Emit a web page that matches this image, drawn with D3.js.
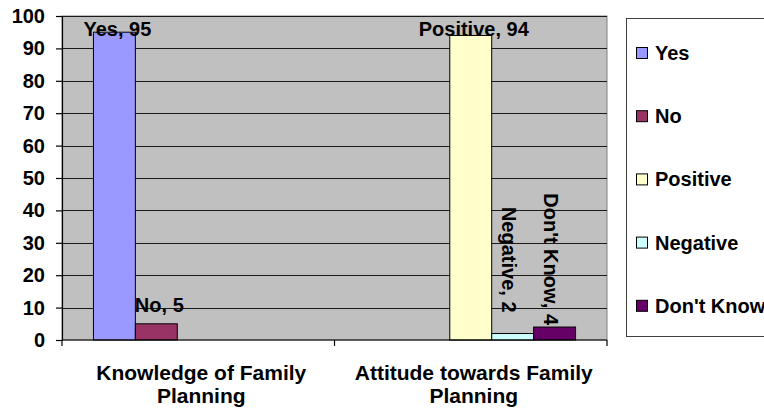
<!DOCTYPE html>
<html>
<head>
<meta charset="utf-8">
<script src="https://cdn.jsdelivr.net/npm/d3@7"></script>
<style>
  html, body { margin: 0; padding: 0; background: #ffffff; }
  svg { display: block; }
  text { font-family: "Liberation Sans", Arial, sans-serif; font-weight: bold; fill: #000; }
</style>
</head>
<body>
<script>
// Survey results: knowledge of and attitude towards family planning (%)
const categories = ["Knowledge of Family Planning", "Attitude towards Family Planning"];
const categoryLines = [["Knowledge of Family", "Planning"], ["Attitude towards Family", "Planning"]];
const seriesNames = ["Yes", "No", "Positive", "Negative", "Don't Know"];
const yesValues = [95, null];
const noValues = [5, null];
const positiveValues = [null, 94];
const negativeValues = [null, 2];
const dontKnowValues = [null, 4];
const yTicks = [0, 10, 20, 30, 40, 50, 60, 70, 80, 90, 100];

const seriesValues = [yesValues, noValues, positiveValues, negativeValues, dontKnowValues];
const colors = ["#9999FF", "#993366", "#FFFFCC", "#CCFFFF", "#660066"];

const W = 764, H = 412;
const plot = { left: 62, right: 607, top: 16, bottom: 340 };
const fontSize = "20px";

const svg = d3.select("body").append("svg").attr("width", W).attr("height", H);

const x0 = d3.scaleBand().domain(categories).range([plot.left, plot.right]).padding(0);
const x1 = d3.scaleBand().domain(seriesNames).range([0, x0.bandwidth()]).paddingInner(0).paddingOuter(0.75);
const y = d3.scaleLinear().domain([0, 100]).range([plot.bottom, plot.top]);

// plot background
svg.append("rect")
  .attr("x", plot.left).attr("y", plot.top)
  .attr("width", plot.right - plot.left).attr("height", plot.bottom - plot.top)
  .attr("fill", "#C0C0C0").attr("stroke", "#808080").attr("stroke-width", 1);

// horizontal gridlines
svg.append("g").selectAll("line").data(yTicks.filter(t => t > 0)).join("line")
  .attr("x1", plot.left).attr("x2", plot.right)
  .attr("y1", d => Math.round(y(d)) + 0.5).attr("y2", d => Math.round(y(d)) + 0.5)
  .attr("stroke", "#1a1a1a").attr("stroke-width", 1.2);

// bars
const rows = [];
categories.forEach((c, ci) => {
  seriesNames.forEach((s, si) => {
    const v = seriesValues[si][ci];
    if (v !== null) rows.push({ category: c, series: s, value: v, color: colors[si] });
  });
});

svg.append("g").selectAll("rect").data(rows).join("rect")
  .attr("x", d => x0(d.category) + x1(d.series))
  .attr("y", d => y(d.value))
  .attr("width", x1.bandwidth())
  .attr("height", d => y(0) - y(d.value))
  .attr("fill", d => d.color)
  .attr("stroke", "#000").attr("stroke-width", 1);

// y axis
const yAxis = svg.append("g")
  .attr("transform", `translate(${plot.left},0)`)
  .call(d3.axisLeft(y).tickValues(yTicks).tickSize(6).tickPadding(11).tickFormat(d3.format("d")));
yAxis.select(".domain").attr("stroke", "#000").attr("stroke-width", 1.2);
yAxis.selectAll(".tick line").attr("stroke", "#000").attr("stroke-width", 1.2);
yAxis.selectAll(".tick text").style("font-size", fontSize).style("font-family", "'Liberation Sans', Arial, sans-serif").style("font-weight", "bold").attr("fill", "#000");

// x axis line with ticks at category boundaries
svg.append("line")
  .attr("x1", plot.left).attr("x2", plot.right)
  .attr("y1", plot.bottom).attr("y2", plot.bottom)
  .attr("stroke", "#000").attr("stroke-width", 1.2);
const boundaries = categories.map(c => x0(c)).concat([x0(categories[categories.length - 1]) + x0.bandwidth()]);
svg.append("g").selectAll("line").data(boundaries).join("line")
  .attr("x1", d => d).attr("x2", d => d)
  .attr("y1", plot.bottom).attr("y2", plot.bottom + 6)
  .attr("stroke", "#000").attr("stroke-width", 1.2);

// category labels
const catText = svg.append("g").selectAll("text").data(categories).join("text")
  .attr("text-anchor", "middle")
  .style("font-size", "21px");
catText.each(function(c, i) {
  const cx = x0(c) + x0.bandwidth() / 2 + 3;
  d3.select(this).selectAll("tspan").data(categoryLines[i]).join("tspan")
    .attr("x", cx)
    .attr("y", (d, j) => 380 + j * 23)
    .text(d => d);
});

// data labels
const rotated = new Set(["Negative", "Don't Know"]);
const rotatedGap = { "Negative": 21, "Don't Know": 2 };
const labels = svg.append("g");
rows.forEach(d => {
  const cx = x0(d.category) + x1(d.series) + x1.bandwidth() / 2;
  const txt = `${d.series}, ${d.value}`;
  if (rotated.has(d.series)) {
    const end = y(d.value) - rotatedGap[d.series];
    labels.append("text")
      .attr("transform", `translate(${cx - 4},${end}) rotate(90)`)
      .attr("text-anchor", "end")
      .attr("dy", "0.35em")
      .style("font-size", fontSize)
      .text(txt);
  } else {
    const base = Math.max(y(d.value) - 12, y(100) + 20);
    labels.append("text")
      .attr("x", cx + 3).attr("y", base)
      .attr("text-anchor", "middle")
      .style("font-size", fontSize)
      .text(txt);
  }
});

// legend
const legend = svg.append("g");
legend.append("rect")
  .attr("x", 626.5).attr("y", 18.5).attr("width", 160).attr("height", 318)
  .attr("fill", "#fff").attr("stroke", "#404040").attr("stroke-width", 1);
const items = legend.selectAll("g.item").data(seriesNames).join("g")
  .attr("class", "item")
  .attr("transform", (d, i) => `translate(636,${53 + i * 63.2})`);
items.append("rect")
  .attr("x", 0.5).attr("y", -5.5).attr("width", 11).attr("height", 11)
  .attr("fill", (d, i) => colors[i]).attr("stroke", "#000").attr("stroke-width", 1);
items.append("text")
  .attr("x", 19).attr("y", 7)
  .style("font-size", fontSize)
  .text(d => d);
</script>
</body>
</html>
